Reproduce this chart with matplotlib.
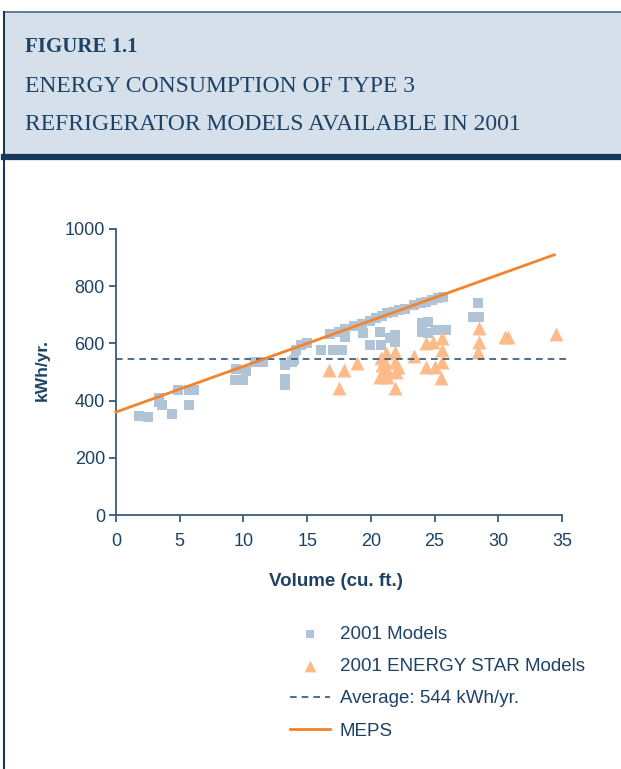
import matplotlib
matplotlib.use('Agg')
import matplotlib.pyplot as plt
from matplotlib.patches import Rectangle
from matplotlib.lines import Line2D

# colours
NAVY = '#1d4266'
AXIS = '#3a5a7a'
SQ_COL = '#b0c3d7'
TRI_COL = '#fdbb8a'
MEPS_COL = '#f5832a'
HEAD_BG = '#d6e0ea'

# 2001 models (volume cu. ft., kWh/yr.)
sq_x = [1.8, 2.5, 3.4, 3.4, 3.6, 4.4, 4.9, 5.7, 6.1, 5.7,
        9.3, 9.4, 10.0, 10.2, 10.9, 11.5,
        13.3, 13.3, 13.3, 13.8, 14.0, 14.1, 14.5, 15.0,
        16.1, 16.8, 17.0, 17.5, 17.7, 18.0, 18.0, 18.7, 19.3, 19.4,
        19.9, 19.9, 20.4, 20.7, 20.8, 20.9, 21.3, 21.5, 21.7, 21.9,
        21.9, 22.2, 22.7, 23.4, 23.9, 24.0, 24.0, 24.3, 24.5, 24.5,
        24.8, 25.1, 25.3, 25.7, 25.9, 28.0, 28.5, 28.4]
sq_y = [346, 342, 408, 395, 385, 353, 437, 437, 437, 384,
        472, 509, 472, 503, 534, 534,
        524, 475, 455, 536, 542, 577, 594, 600,
        577, 632, 577, 641, 577, 650, 624, 660, 668, 636,
        678, 594, 688, 641, 594, 695, 705, 618, 711, 629,
        606, 717, 722, 735, 740, 641, 670, 746, 676, 636,
        752, 647, 758, 763, 647, 693, 693, 740]

# 2001 ENERGY STAR models
tri_x = [16.7, 17.5, 17.9, 18.9, 20.7, 20.8, 20.8, 20.9, 21.1, 21.2,
         21.3, 21.3, 21.9, 21.9, 22.0, 21.9, 22.1, 23.4, 24.3, 24.9,
         24.3, 25.0, 25.6, 25.6, 25.6, 25.5, 28.5, 28.5, 28.4, 30.5,
         30.8, 34.5]
tri_y = [507, 443, 507, 533, 484, 548, 490, 524, 536, 565,
         507, 484, 571, 536, 501, 443, 519, 556, 600, 606,
         519, 519, 618, 577, 536, 478, 653, 606, 571, 624,
         624, 633]

avg_x = [0, 35.5]
avg_y = [544, 544]

meps_x = [0, 34.4]
meps_y = [360, 910]

x_ticks = [0, 5, 10, 15, 20, 25, 30, 35]
y_ticks = [0, 200, 400, 600, 800, 1000]

W, H = 621, 769
fig = plt.figure(figsize=(W / 100, H / 100), dpi=100)
fig.patch.set_facecolor('white')

# header box
fig.patches.append(Rectangle((4 / W, 1 - 158 / H), 1, 146 / H, transform=fig.transFigure,
                             facecolor=HEAD_BG, edgecolor='none', zorder=0))
fig.add_artist(Line2D([4 / W, 1], [1 - 12 / H, 1 - 12 / H], color='#4a6a8a', lw=1.2))
fig.add_artist(Line2D([4 / W, 1], [1 - 157 / H, 1 - 157 / H], color='#17395c', lw=4.5))
fig.add_artist(Line2D([4 / W, 4 / W], [0, 1 - 12 / H], color='#17395c', lw=1.5))

fig.text(25 / W, 1 - 52 / H, 'FIGURE 1.1', family='Liberation Serif', weight='bold',
         fontsize=15, color=NAVY, va='baseline')
fig.text(25 / W, 1 - 92 / H, 'ENERGY CONSUMPTION OF TYPE 3', family='Liberation Serif',
         fontsize=17, color=NAVY, va='baseline')
fig.text(25 / W, 1 - 130 / H, 'REFRIGERATOR MODELS AVAILABLE IN 2001', family='Liberation Serif',
         fontsize=17, color=NAVY, va='baseline')

ax = fig.add_axes([116 / W, 1 - 515 / H, (562 - 116) / W, (515 - 229) / H])
ax.scatter(sq_x, sq_y, marker='s', s=46, color=SQ_COL, linewidths=0, zorder=2,
           label='2001 Models')
ax.scatter(tri_x, tri_y, marker='^', s=100, color=TRI_COL, linewidths=0, zorder=3,
           label='2001 ENERGY STAR Models')
ax.plot(avg_x, avg_y, '--', color='#2f5578', lw=1.2, dashes=(4, 3), zorder=4,
        label='Average: 544 kWh/yr.', clip_on=False)
ax.plot(meps_x, meps_y, '-', color=MEPS_COL, lw=2, zorder=5, label='MEPS', clip_on=False)

ax.set_xlim(0, 35)
ax.set_ylim(0, 1000)
ax.set_xticks(x_ticks)
ax.set_yticks(y_ticks)
for s in ['top', 'right']:
    ax.spines[s].set_visible(False)
for s in ['left', 'bottom']:
    ax.spines[s].set_color(AXIS)
    ax.spines[s].set_linewidth(1.3)
ax.tick_params(direction='out', length=5, width=1.3, color=AXIS, labelcolor=NAVY,
               labelsize=13)
ax.tick_params(axis='x', pad=8)
ax.tick_params(axis='y', pad=3)
for lab in ax.get_xticklabels() + ax.get_yticklabels():
    lab.set_family('Liberation Sans')
ax.set_facecolor('none')

fig.text(336 / W, 1 - 582 / H, 'Volume (cu. ft.)', family='Liberation Sans', weight='bold',
         fontsize=13.5, color=NAVY, ha='center', va='center')
fig.text(42 / W, 1 - 370 / H, 'kWh/yr.', family='Liberation Sans', weight='bold',
         fontsize=12.5, color=NAVY, ha='center', va='center', rotation=90)

handles, labels = ax.get_legend_handles_labels()
leg = fig.legend(handles, labels, loc='upper left', bbox_to_anchor=(290 / W, 1 - 626 / H),
                 frameon=False, borderpad=0, borderaxespad=0, handlelength=2.13,
                 handletextpad=0.53, labelspacing=0.8,
                 prop={'family': 'Liberation Sans', 'size': 13.5}, markerscale=0.85)
for t in leg.get_texts():
    t.set_color(NAVY)

fig.savefig('out.png', dpi=100)
